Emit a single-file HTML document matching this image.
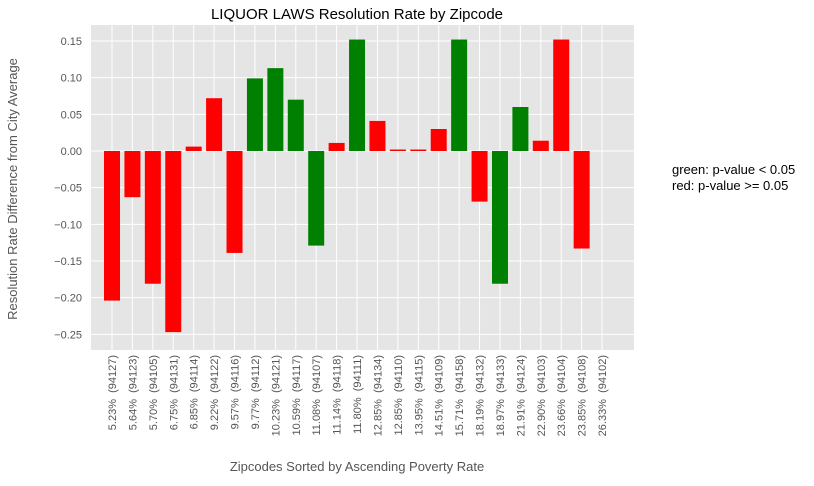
<!DOCTYPE html>
<html><head><meta charset="utf-8"><style>
body{margin:0;background:#fff;width:814px;height:481px;overflow:hidden}
svg text{font-family:"Liberation Sans","DejaVu Sans",sans-serif}
</style></head><body>
<svg id="chart" width="814" height="481">
<text x="357" y="19" font-size="15" text-anchor="middle" fill="#000">LIQUOR LAWS Resolution Rate by Zipcode</text>
<rect x="91" y="25" width="543" height="325" fill="#e5e5e5"/>
<g id="grid"></g><g id="bars"></g><g id="ticks"></g>
<text transform="translate(17,189) rotate(-90)" font-size="13" text-anchor="middle" fill="#555">Resolution Rate Difference from City Average</text>
<text x="357" y="471" font-size="13" text-anchor="middle" fill="#555">Zipcodes Sorted by Ascending Poverty Rate</text>
<text x="672" y="174" font-size="13" fill="#000">green: p-value &lt; 0.05</text>
<text x="672" y="190" font-size="13" fill="#000">red: p-value &gt;= 0.05</text>
</svg>
<script>
const categories=["5.23%  (94127)","5.64%  (94123)","5.70%  (94105)","6.75%  (94131)","6.85%  (94114)","9.22%  (94122)","9.57%  (94116)","9.77%  (94112)","10.23%  (94121)","10.59%  (94117)","11.08%  (94107)","11.14%  (94118)","11.80%  (94111)","12.85%  (94134)","12.85%  (94110)","13.95%  (94115)","14.51%  (94109)","15.71%  (94158)","18.19%  (94132)","18.97%  (94133)","21.91%  (94124)","22.90%  (94103)","23.66%  (94104)","23.85%  (94108)","26.33%  (94102)"];
const values=[-0.204,-0.063,-0.181,-0.247,0.006,0.072,-0.139,0.099,0.113,0.070,-0.129,0.011,0.152,0.041,0.002,0.002,0.030,0.152,-0.069,-0.181,0.060,0.014,0.152,-0.133,0];
const significant=[0,0,0,0,0,0,0,1,1,1,1,0,1,0,0,0,0,1,0,1,1,0,0,0,0];
const yTicks=[0.15,0.10,0.05,0.00,-0.05,-0.10,-0.15,-0.20,-0.25];
const NS="http://www.w3.org/2000/svg";
const y=v=>151-v*733.3;
const x=i=>112+i*20.42;
const grid=document.getElementById('grid'),bars=document.getElementById('bars'),ticks=document.getElementById('ticks');
function mk(tag,attrs,parent){const e=document.createElementNS(NS,tag);for(const k in attrs)e.setAttribute(k,attrs[k]);parent.appendChild(e);return e;}
yTicks.forEach(t=>{
  const l=mk('line',{x1:91,x2:634,y1:y(t),y2:y(t),stroke:'#fff','stroke-width':1},grid);
  
  
  const tx=mk('text',{x:82,y:y(t)+4,'font-size':11,'text-anchor':'end',fill:'#555'},ticks);
  tx.textContent=(t<0?'\u2212':'')+Math.abs(t).toFixed(2);
  
  
});
categories.forEach((c,i)=>{
  const l=mk('line',{x1:x(i),x2:x(i),y1:25,y2:350,stroke:'#fff','stroke-width':1},grid);
  
  
  const v=values[i];
  const r=mk('rect',{x:x(i)-8,width:16,y:Math.min(y(v),y(0)),height:Math.abs(y(v)-y(0)),fill:significant[i]?'#008000':'#ff0000'},bars);
  
  
  const tx=mk('text',{transform:`translate(${x(i)+4},355) rotate(-90)`,'font-size':11,'text-anchor':'end',fill:'#555',style:'white-space:pre'},ticks);
  tx.textContent=c;
  
  
});
</script>
</body></html>
